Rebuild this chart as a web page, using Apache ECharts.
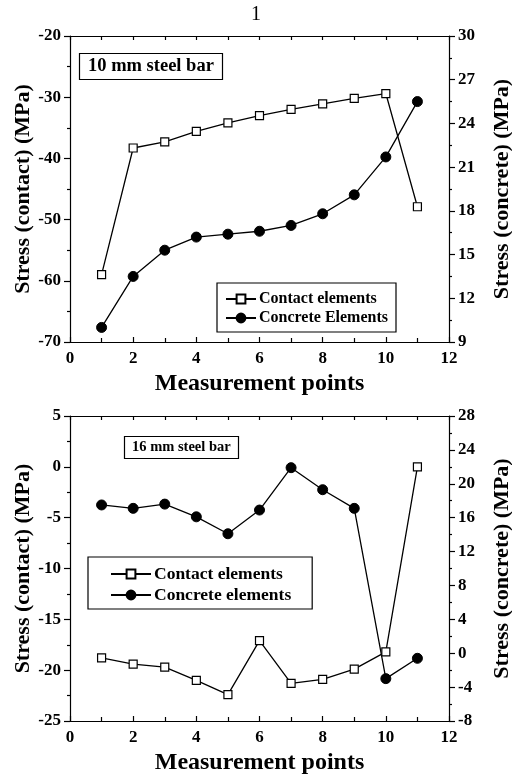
<!DOCTYPE html>
<html>
<head>
<meta charset="utf-8">
<script src="https://cdn.jsdelivr.net/npm/echarts@6/dist/echarts.min.js"></script>
<style>
  html, body { margin: 0; padding: 0; background: #fff; }
  #chart { width: 512px; height: 778px; }
</style>
</head>
<body>
<div id="chart"></div>
<script>
// Measurement point indices shared by both panels
const points = [1, 2, 3, 4, 5, 6, 7, 8, 9, 10, 11];

// 10 mm steel bar
const contact10 = [-59.0, -38.3, -37.3, -35.6, -34.2, -33.0, -32.0, -31.1, -30.2, -29.4, -47.9];
const concrete10 = [10.0, 13.5, 15.3, 16.2, 16.4, 16.6, 17.0, 17.8, 19.1, 21.7, 25.5];

// 16 mm steel bar
const contact16 = [-18.8, -19.4, -19.7, -21.0, -22.4, -17.1, -21.3, -20.9, -19.9, -18.2, 0.0];
const concrete16 = [17.5, 17.1, 17.6, 16.1, 14.1, 16.9, 21.9, 19.3, 17.1, -3.0, -0.6];

const FONT = 'Liberation Serif';
const pairs = (ys) => points.map((x, i) => [x, ys[i]]);

const chart = echarts.init(document.getElementById('chart'), null, { renderer: 'canvas' });

const labelStyle = { fontFamily: FONT, fontWeight: 'bold', fontSize: 17, color: '#000' };
const nameStyle = { fontFamily: FONT, fontWeight: 'bold', fontSize: 22, color: '#000' };
const axisLine = { show: true, onZero: false, lineStyle: { color: '#000', width: 1.2 } };

function bottomX(grid) {
  return {
    type: 'value', gridIndex: grid, position: 'bottom', min: 0, max: 12, interval: 2,
    name: 'Measurement points', nameLocation: 'middle', nameGap: 30,
    nameTextStyle: Object.assign({}, nameStyle, { fontSize: 24 }),
    axisLine: axisLine,
    axisTick: { show: true, inside: true, length: 5, lineStyle: { color: '#000', width: 1.2 } },
    minorTick: { show: true, splitNumber: 2, length: 4, lineStyle: { color: '#000', width: 1.2 } },
    axisLabel: Object.assign({ margin: 8 }, labelStyle),
    splitLine: { show: false }
  };
}
function topX(grid) {
  return {
    type: 'value', gridIndex: grid, position: 'top', min: 0, max: 12, interval: 1,
    axisLine: axisLine,
    axisTick: { show: true, inside: true, length: 4, lineStyle: { color: '#000', width: 1.2 } },
    axisLabel: { show: false },
    splitLine: { show: false }
  };
}
function yAxis(grid, pos, min, max, interval, name) {
  return {
    type: 'value', gridIndex: grid, position: pos, min: min, max: max, interval: interval,
    name: name, nameLocation: 'middle', nameGap: pos === 'left' ? 36 : 42,
    nameMoveOverlap: false,
    nameTextStyle: nameStyle,
    axisLine: axisLine,
    axisTick: { show: true, inside: false, length: 6, lineStyle: { color: '#000', width: 1.2 } },
    minorTick: { show: true, splitNumber: 2, length: 3, lineStyle: { color: '#000', width: 1.2 } },
    axisLabel: Object.assign({ margin: 9 }, labelStyle),
    splitLine: { show: false }
  };
}

const contactStyle = {
  type: 'line', symbol: 'rect', symbolSize: 8,
  lineStyle: { color: '#000', width: 1.3 },
  itemStyle: { color: '#fff', borderColor: '#000', borderWidth: 1.2 }
};
const concreteStyle = {
  type: 'line', symbol: 'circle', symbolSize: 10,
  lineStyle: { color: '#000', width: 1.3 },
  itemStyle: { color: '#000', borderColor: '#000', borderWidth: 1 }
};

const option = {
  animation: false,
  backgroundColor: '#fff',
  title: [
    { text: '1', left: 'center', top: 0,
      textStyle: { fontFamily: FONT, fontWeight: 'normal', fontSize: 20, color: '#000' } },
    { text: '10 mm steel bar', left: 79, top: 53, padding: [4, 9, 4, 9],
      borderColor: '#000', borderWidth: 1.2,
      textStyle: { fontFamily: FONT, fontWeight: 'bold', fontSize: 18.5, color: '#000' } },
    { text: '16 mm steel bar', left: 124, top: 436, padding: [4, 8, 4, 8],
      borderColor: '#000', borderWidth: 1.2,
      textStyle: { fontFamily: FONT, fontWeight: 'bold', fontSize: 14.5, color: '#000' } }
  ],
  legend: [
    { data: ['Contact elements', 'Concrete Elements'], orient: 'vertical',
      left: 217, top: 283, padding: [8, 8, 6, 8], itemGap: 3,
      itemWidth: 30, itemHeight: 11, borderColor: '#000', borderWidth: 1.2,
      textStyle: { fontFamily: FONT, fontWeight: 'bold', fontSize: 16, color: '#000', padding: [0, 0, 0, -2] } },
    { data: ['Contact elements ', 'Concrete elements'], orient: 'vertical',
      left: 88, top: 557, padding: [8, 21, 5, 22], itemGap: 3,
      itemWidth: 40, itemHeight: 11, borderColor: '#000', borderWidth: 1.2,
      textStyle: { fontFamily: FONT, fontWeight: 'bold', fontSize: 17.5, color: '#000', padding: [0, 0, 0, -2] } }
  ],
  grid: [
    { left: 70, top: 36, width: 379, height: 306, outerBoundsMode: 'none' },
    { left: 70, top: 416, width: 379, height: 305, outerBoundsMode: 'none' }
  ],
  xAxis: [bottomX(0), topX(0), bottomX(1), topX(1)],
  yAxis: [
    yAxis(0, 'left', -70, -20, 10, 'Stress (contact) (MPa)'),
    yAxis(0, 'right', 9, 30, 3, 'Stress (concrete) (MPa)'),
    yAxis(1, 'left', -25, 5, 5, 'Stress (contact) (MPa)'),
    yAxis(1, 'right', -8, 28, 4, 'Stress (concrete) (MPa)')
  ],
  series: [
    Object.assign({ name: 'Contact elements', xAxisIndex: 0, yAxisIndex: 0, data: pairs(contact10) }, contactStyle),
    Object.assign({ name: 'Concrete Elements', xAxisIndex: 0, yAxisIndex: 1, data: pairs(concrete10) }, concreteStyle),
    Object.assign({ name: 'Contact elements ', xAxisIndex: 2, yAxisIndex: 2, data: pairs(contact16) }, contactStyle),
    Object.assign({ name: 'Concrete elements', xAxisIndex: 2, yAxisIndex: 3, data: pairs(concrete16) }, concreteStyle)
  ]
};

chart.setOption(option);
</script>
</body>
</html>
